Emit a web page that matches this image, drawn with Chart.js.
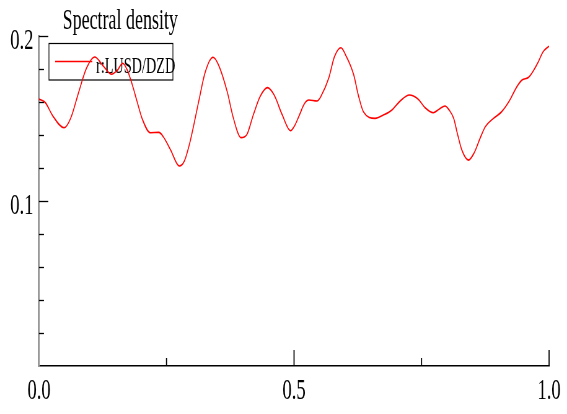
<!DOCTYPE html>
<html>
<head>
<meta charset="utf-8">
<script src="https://cdn.jsdelivr.net/npm/chart.js@4.4.0/dist/chart.umd.min.js"></script>
<style>
    html, body { margin: 0; padding: 0; background: #fff; overflow: hidden; }
    /* the source font is a narrow Times, so draw wide and squeeze horizontally */
    #wrap { width: 915px; height: 414px; transform: scaleX(0.6197); transform-origin: 0 0; }
</style>
</head>
<body>
<div id="wrap"><canvas id="spectrum" width="915" height="414"></canvas></div>
<script>
// Spectral density of r:LUSD/DZD
const freqs = [0, 0.013, 0.026, 0.049, 0.062, 0.078, 0.093, 0.109, 0.127, 0.142,
    0.154, 0.164, 0.173, 0.183, 0.192, 0.202, 0.218, 0.235, 0.244, 0.258,
    0.275, 0.285, 0.297, 0.313, 0.326, 0.341, 0.352, 0.369, 0.381, 0.396,
    0.407, 0.420, 0.434, 0.448, 0.461, 0.477, 0.493, 0.502, 0.512, 0.520,
    0.529, 0.545, 0.553, 0.568, 0.579, 0.592, 0.602, 0.617, 0.626, 0.636,
    0.659, 0.675, 0.692, 0.708, 0.726, 0.743, 0.757, 0.773, 0.785, 0.796,
    0.804, 0.813, 0.820, 0.829, 0.842, 0.853, 0.865, 0.875, 0.891, 0.907,
    0.922, 0.937, 0.947, 0.960, 0.969, 0.979, 0.988, 1.0];
const density = [0.1618, 0.1594, 0.1521, 0.1444, 0.1501, 0.1662, 0.1804, 0.1873, 0.1814, 0.1768,
    0.1794, 0.1835, 0.1794, 0.1703, 0.1606, 0.1501, 0.1414, 0.1416, 0.1388, 0.1309,
    0.1212, 0.1242, 0.1370, 0.1602, 0.1782, 0.1871, 0.1824, 0.1662, 0.1503, 0.1384,
    0.1400, 0.1521, 0.1636, 0.1687, 0.1642, 0.1521, 0.1426, 0.1461, 0.1532, 0.1588,
    0.1612, 0.1606, 0.1636, 0.1744, 0.1873, 0.1929, 0.1879, 0.1764, 0.1642, 0.1541,
    0.1501, 0.1521, 0.1552, 0.1606, 0.1642, 0.1618, 0.1565, 0.1535, 0.1558, 0.1576,
    0.1552, 0.1501, 0.1412, 0.1309, 0.1248, 0.1291, 0.1382, 0.1450, 0.1501, 0.1541,
    0.1606, 0.1693, 0.1733, 0.1750, 0.1788, 0.1844, 0.1903, 0.1939];
const xTickLabels = ['0.0', '0.5', '1.0'];
const yTickLabels = ['0.1', '0.2'];
const seriesName = 'r:LUSD/DZD';
const chartTitle = 'Spectral density';

const SQ = 0.6197;   // horizontal squeeze of the wrapper
const FONT = "'Liberation Serif', 'Times New Roman', serif";

// inward tick marks, title and framed legend
const decorPlugin = {
    id: 'decor',
    beforeDatasetsDraw(chart) {
        const ctx = chart.ctx;
        // legend box (curve runs over it)
        ctx.save();
        ctx.strokeStyle = '#000';
        ctx.lineWidth = 1.2;
        ctx.strokeRect(79, 43.5, 200, 36.5);
        ctx.strokeStyle = 'red';
        ctx.lineWidth = 1.4;
        ctx.beginPath();
        ctx.moveTo(89, 61.5);
        ctx.lineTo(149, 61.5);
        ctx.stroke();
        ctx.fillStyle = '#000';
        ctx.font = '23px ' + FONT;
        ctx.textBaseline = 'alphabetic';
        ctx.fillText(seriesName, 155, 73);
        ctx.restore();
    },
    afterDraw(chart) {
        const ctx = chart.ctx;
        const area = chart.chartArea;
        const xs = chart.scales.x, ys = chart.scales.y;
        ctx.save();
        ctx.strokeStyle = '#000';
        // y ticks pointing right
        ctx.lineWidth = 1.3;
        ys.ticks.forEach(t => {
            if (t.value <= 0) return;
            const y = Math.round(ys.getPixelForValue(t.value)) + 0.5;
            const major = Math.round(t.value * 100) % 10 === 0;
            ctx.beginPath();
            ctx.moveTo(area.left, y);
            ctx.lineTo(area.left + (major ? 15 : 8), y);
            ctx.stroke();
        });
        // x ticks pointing up
        ctx.lineWidth = 1.8;
        xs.ticks.forEach(t => {
            if (t.value <= 0) return;
            const x = xs.getPixelForValue(t.value);
            const major = Math.round(t.value * 100) % 50 === 0;
            ctx.beginPath();
            ctx.moveTo(x, area.bottom);
            ctx.lineTo(x, area.bottom - (major ? 16 : 8));
            ctx.stroke();
        });
        // title
        ctx.fillStyle = '#000';
        ctx.font = '29px ' + FONT;
        ctx.textBaseline = 'alphabetic';
        ctx.fillText(chartTitle, 101, 29);
        ctx.restore();
    }
};

const ctx = document.getElementById('spectrum').getContext('2d');
const spectrumChart = new Chart(ctx, {
    type: 'line',
    data: {
        datasets: [{
            label: seriesName,
            data: freqs.map((f, i) => ({ x: f, y: density[i] })),
            borderColor: 'red',
            borderWidth: 1.6,
            pointRadius: 0,
            cubicInterpolationMode: 'monotone',
            fill: false
        }]
    },
    options: {
        responsive: false,
        animation: false,
        devicePixelRatio: 1,
        layout: { padding: { top: 36, right: 29, left: 0, bottom: 0 } },
        plugins: {
            legend: { display: false },
            title: { display: false },
            tooltip: { enabled: false }
        },
        scales: {
            x: {
                type: 'linear',
                min: 0,
                max: 1,
                grid: { display: false, drawTicks: false },
                border: { display: true, color: '#000', width: 1.5 },
                ticks: {
                    stepSize: 0.25,
                    autoSkip: false,
                    maxRotation: 0,
                    padding: 7,
                    color: '#000',
                    font: { family: FONT, size: 30 },
                    callback: v => {
                        const i = Math.round(v * 2);
                        return Math.abs(v * 2 - i) < 1e-6 ? xTickLabels[i] : '';
                    }
                },
                afterFit: s => { s.height = 48; }
            },
            y: {
                type: 'linear',
                min: 0,
                max: 0.2,
                grid: { display: false, drawTicks: false },
                border: { display: true, color: '#999', width: 3 },
                ticks: {
                    stepSize: 0.02,
                    autoSkip: false,
                    padding: 9,
                    labelOffset: 5,
                    color: '#000',
                    font: { family: FONT, size: 30 },
                    callback: v => {
                        const r = Math.round(v * 100);
                        if (r === 10) return yTickLabels[0];
                        if (r === 20) return yTickLabels[1];
                        return '';
                    }
                },
                afterFit: s => { s.width = 39 / SQ; }
            }
        }
    },
    plugins: [decorPlugin]
});
</script>
</body>
</html>
